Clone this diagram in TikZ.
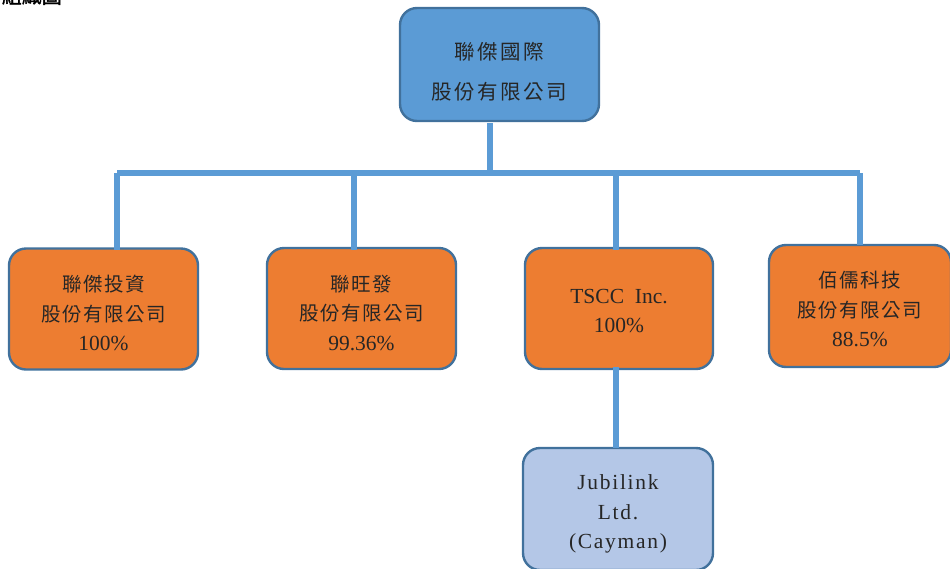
\documentclass[tikz,border=0pt]{standalone}
\usepackage{fontspec}
\setmainfont{Liberation Serif}
\newfontfamily\cjk[LetterSpace=8]{Noto Sans CJK TC}
\newfontfamily\cjkwide[LetterSpace=12]{Noto Sans CJK TC}
\newfontfamily\cjkbold[FakeBold=2]{Noto Sans CJK TC}
\newfontfamily\latsp[LetterSpace=8]{Liberation Serif}
\definecolor{topblue}{HTML}{5B9BD5}
\definecolor{edgeblue}{HTML}{41719C}
\definecolor{orng}{HTML}{ED7D31}
\definecolor{paleblue}{HTML}{B4C7E7}
\definecolor{inkc}{HTML}{262626}
\newcommand{\cj}[1]{{\fontsize{19.5}{29.5}\selectfont\cjk #1}}
\newcommand{\lt}[1]{{\fontsize{21.5}{29.5}\selectfont #1}}
\newcommand{\ls}[1]{{\fontsize{21.5}{29.5}\selectfont\latsp #1}}
\begin{document}
\begin{tikzpicture}[x=1pt,y=-1pt,
  box/.style={draw=edgeblue,line width=2.4pt,rounded corners=17pt},
  txt/.style={align=center,text=inkc,inner sep=0pt,font=\fontsize{18.5}{29.5}\selectfont},
  topbox/.style={box,fill=topblue,minimum width=199pt,minimum height=113pt},
  subbox/.style={box,fill=orng,minimum width=189pt,minimum height=121pt},
  lowbox/.style={box,fill=paleblue,minimum width=190pt,minimum height=122pt},
  link/.style={draw=topblue,line width=5.5pt}]
\useasboundingbox (0,0) rectangle (950,568);
\clip (0,0) rectangle (950,568);
\node[anchor=south east,font=\fontsize{20}{20}\selectfont\cjkbold,text=black,inner sep=0pt] (title) at (62,5) {組織圖};
\node[topbox] (top) at (499.5,64.5) {};
\node[subbox] (b1) at (103.5,309) {};
\node[subbox] (b2) at (361.5,308.5) {};
\node[subbox,minimum width=188pt] (b3) at (619,308.5) {};
\node[subbox,minimum width=182pt,minimum height=122pt] (b4) at (860,306) {};
\node[lowbox] (b5) at (618,509) {};
\node[txt,font=\fontsize{20.5}{40}\selectfont\cjkwide] (t0) at ([yshift=-7pt]top.center) {聯傑國際\\股份有限公司};
\node[txt] (t1) at ([yshift=-4pt]b1.center) {\cj{聯傑投資}\\\cj{股份有限公司}\\\lt{100\%}};
\node[txt] (t2) at ([yshift=-4pt]b2.center) {\cj{聯旺發}\\\cj{股份有限公司}\\\lt{99.36\%}};
\node[txt] (t3) at ([yshift=-2.5pt]b3.center) {\lt{TSCC\ \ Inc.}\\\lt{100\%}};
\node[txt] (t4) at ([yshift=-3pt]b4.center) {\cj{佰儒科技}\\\cj{股份有限公司}\\\lt{88.5\%}};
\node[txt] (t5) at ([yshift=-5pt]b5.center) {\ls{Jubilink}\\\ls{Ltd.}\\\ls{(Cayman)}};
\coordinate (d0) at (490,173);
\coordinate (d1) at (117,173);
\coordinate (d2) at (354,173);
\coordinate (d3) at (616,173);
\coordinate (d4) at (860,173);
\coordinate (d5) at (616,447);
\draw[link] (top.south -| d0) ++(0,1) -- (d0);
\draw[link] (d1) -- (d4);
\draw[link] (d1) -- ([yshift=-3pt]b1.north -| d1);
\draw[link] (d2) -- ([yshift=-3pt]b2.north -| d2);
\draw[link] (d3) -- ([yshift=-3pt]b3.north -| d3);
\draw[link] (d4) -- ([yshift=-1pt]b4.north -| d4);
\draw[link] ([yshift=3pt]b3.south -| d5) -- ([yshift=-1pt]b5.north -| d5);
\end{tikzpicture}
\end{document}
